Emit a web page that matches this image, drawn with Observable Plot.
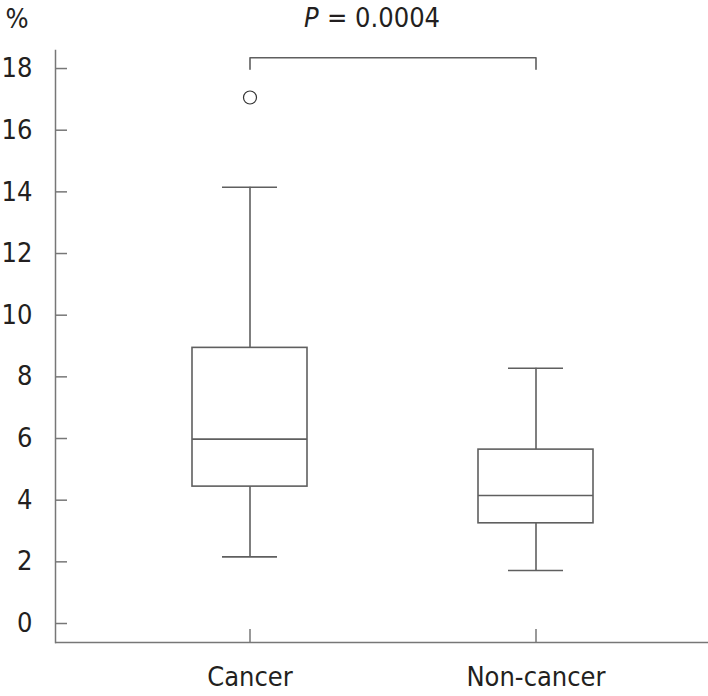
<!DOCTYPE html>
<html>
<head>
<meta charset="utf-8">
<script src="https://cdn.jsdelivr.net/npm/d3@7"></script>
<script src="https://cdn.jsdelivr.net/npm/@observablehq/plot@0.6"></script>
<style>
  html, body { margin: 0; padding: 0; background: #fff; }
  #chart svg { display: block; }
</style>
</head>
<body>
<div id="chart"></div>
<script>
// ---- data ----
const categories = ["Cancer", "Non-cancer"];
const lowerWhisker = [2.16, 1.72];
const q1 = [4.44, 3.25];
const median = [5.98, 4.15];
const q3 = [8.94, 5.64];
const upperWhisker = [14.15, 8.28];
const outlierCategory = ["Cancer"];
const outlierValue = [17.06];
const yTicks = [0, 2, 4, 6, 8, 10, 12, 14, 16, 18];
const bracketCategories = ["Cancer", "Non-cancer"];
const bracketLow = 17.98;
const bracketHigh = 18.35;
const pLabel = "P";
const pValueText = "= 0.0004";
const unitLabel = "%";
const yDomain = [-0.616, 18.585];

// tables built from the arrays
const stats = categories.map((c, i) => ({
  cat: c, lo: lowerWhisker[i], q1: q1[i], med: median[i], q3: q3[i], hi: upperWhisker[i]
}));
const outliers = outlierCategory.map((c, i) => ({cat: c, value: outlierValue[i]}));
const bracket = [
  {cat: bracketCategories[0], y: bracketLow},
  {cat: bracketCategories[0], y: bracketHigh},
  {cat: bracketCategories[1], y: bracketHigh},
  {cat: bracketCategories[1], y: bracketLow}
];

const lineColor = "#5f5f5f";
const axisColor = "#777";
const textColor = "#231f20";
const fontFamily = "'DejaVu Sans Condensed', 'DejaVu Sans', sans-serif";

const chart = Plot.plot({
  width: 708,
  height: 696,
  marginLeft: 55,
  marginRight: 0,
  marginTop: 50,
  marginBottom: 54,
  style: {fontFamily, fontSize: "27px", color: textColor, background: "white", fontStretch: "condensed"},
  x: {type: "band", domain: categories, paddingInner: 0.598, paddingOuter: 0.4395, align: 0.545, label: null},
  y: {domain: yDomain, label: null},
  marks: [
    Plot.frame({anchor: "left", stroke: axisColor, strokeWidth: 1.5}),
    Plot.ruleY([yDomain[0]], {stroke: axisColor, strokeWidth: 1.5}),
    Plot.axisY({ticks: yTicks, tickSize: -12, tickPadding: 35, stroke: axisColor, strokeWidth: 1.5, fill: textColor, fontSize: 27, label: null}),
    Plot.axisX({tickSize: -13, tickPadding: 37, stroke: axisColor, strokeWidth: 1.5, fill: textColor, fontSize: 27, label: null}),
    // whiskers
    Plot.ruleX(stats, {x: "cat", y1: "lo", y2: "q1", stroke: lineColor, strokeWidth: 1.6}),
    Plot.ruleX(stats, {x: "cat", y1: "q3", y2: "hi", stroke: lineColor, strokeWidth: 1.6}),
    // whisker caps
    Plot.tickY(stats, {x: "cat", y: "lo", insetLeft: 30, insetRight: 30, stroke: lineColor, strokeWidth: 1.6}),
    Plot.tickY(stats, {x: "cat", y: "hi", insetLeft: 30, insetRight: 30, stroke: lineColor, strokeWidth: 1.6}),
    // boxes
    Plot.barY(stats, {x: "cat", y1: "q1", y2: "q3", fill: "white", stroke: lineColor, strokeWidth: 1.6}),
    Plot.tickY(stats, {x: "cat", y: "med", stroke: lineColor, strokeWidth: 1.6}),
    // outlier
    Plot.dot(outliers, {x: "cat", y: "value", r: 6.5, stroke: "#333", strokeWidth: 1.2, fill: "white"}),
    // significance bracket
    Plot.line(bracket, {x: "cat", y: "y", stroke: lineColor, strokeWidth: 1.6}),
    Plot.text([pLabel], {x: [bracketCategories[0]], frameAnchor: "top", textAnchor: "start", lineAnchor: "bottom", dx: 54, dy: -24, fontStyle: "italic", fontSize: 27, fill: textColor}),
    Plot.text([pValueText], {x: [bracketCategories[0]], frameAnchor: "top", textAnchor: "start", lineAnchor: "bottom", dx: 77, dy: -24, fontSize: 27, fill: textColor}),
    Plot.text([unitLabel], {frameAnchor: "top-left", textAnchor: "start", lineAnchor: "bottom", dx: -50, dy: -23, fontSize: 27, fill: textColor})
  ]
});
document.getElementById("chart").appendChild(chart);
</script>
</body>
</html>
